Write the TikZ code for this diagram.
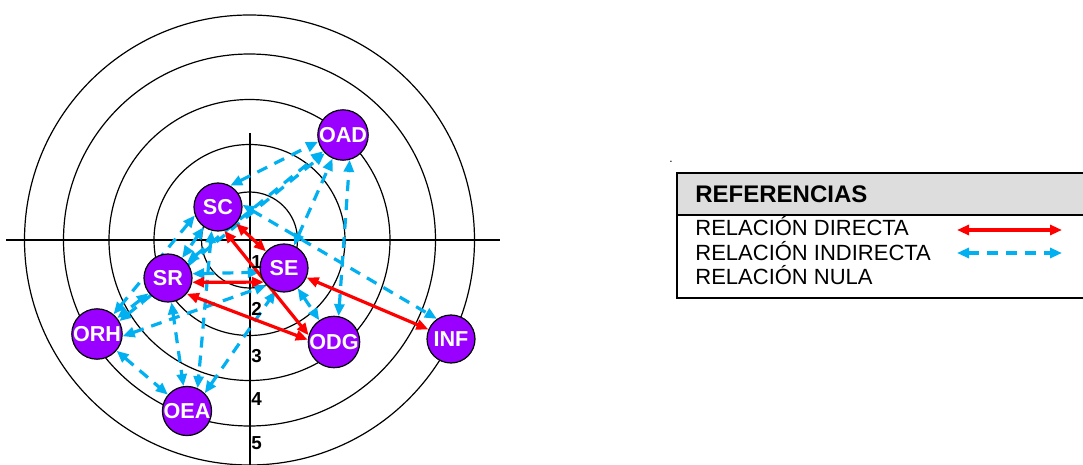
\documentclass[tikz,border=0pt]{standalone}
\usepackage{fontspec}
\setmainfont{Liberation Sans}
\usetikzlibrary{arrows.meta,backgrounds}
\definecolor{micPurple}{RGB}{153,0,255}
\definecolor{micBlue}{RGB}{0,176,240}
\definecolor{micRed}{RGB}{255,0,0}
\definecolor{micHead}{RGB}{221,221,221}
\tikzset{
  mic/var/.style={circle, draw=black, line width=0.6pt, fill=micPurple,
                  minimum size=24pt, inner sep=0pt, text=white,
                  font=\fontsize{10.8}{11}\selectfont\bfseries},
  mic/ring/.style={draw=black, line width=0.6pt},
  mic/axis/.style={draw=black, line width=0.8pt},
  mic/num/.style={font=\fontsize{9.4}{10}\selectfont\bfseries, anchor=base west,
                  inner sep=0pt},
  mic/direct/.style={{Triangle[length=6pt, width=5pt]}-{Triangle[length=6pt, width=5pt]},
                     line width=1.6pt, draw=micRed},
  mic/indirect/.style={{Triangle[length=6pt, width=5pt]}-{Triangle[length=6pt, width=5pt]},
                       line width=1.6pt, draw=micBlue, dash pattern=on 5.5pt off 4pt},
  mic/lbl/.style={font=\fontsize{11}{12}\selectfont, anchor=base west, inner sep=0pt},
  mic/title/.style={font=\fontsize{12}{13}\selectfont\bfseries, anchor=base west, inner sep=0pt},
}

\begin{document}
\begin{tikzpicture}[x=0.5pt, y=-0.5pt]
  \useasboundingbox (0,0) rectangle (1083,465);

  % ---------------- variables ----------------
  \node[mic/var] (OAD) at (343,135) {OAD};
  \node[mic/var] (SC)  at (218,207) {SC};
  \node[mic/var] (SE)  at (284,268) {SE};
  \node[mic/var] (SR)  at (168,278) {SR};
  \node[mic/var] (ORH) at (97,334)  {ORH};
  \node[mic/var] (ODG) at (334,342) {ODG};
  \node[mic/var] (INF) at (451,339) {INF};
  \node[mic/var] (OEA) at (187,411) {OEA};

  \begin{scope}[on background layer]
    \fill[white] (0,0) rectangle (1083,465);
    % ---------------- rings and axes ----------------
    \coordinate (ctr) at (249.5,240);
    \foreach \r in {48,95.5,140.5,186,225}
      \draw[mic/ring] (ctr) circle[radius=\r];
    \draw[mic/axis] (6,240) -- (500,240);
    \draw[mic/axis] (250,133) -- (250,470);

    % ---------------- indirect relations ----------------
    \draw[mic/indirect] (SC.60) -- (OAD.195);
    \draw[mic/indirect] (SC.5) -- (INF.125);
    \draw[mic/indirect] (SC) -- (SR);
    \draw[mic/indirect] (SC.200) -- (ORH.50);
    \draw[mic/indirect] (SC.-105) -- (OEA.65);
    \draw[mic/indirect] (SR) -- (OAD);
    \draw[mic/indirect] (ORH.30) -- (OAD.225);
    \draw[mic/indirect] (SE) -- (OAD);
    \draw[mic/indirect] (ODG.80) -- (OAD.-75);
    \draw[mic/indirect] (SE) -- (ODG);
    \draw[mic/indirect] (SR.10) -- (SE.190);
    \draw[mic/indirect] (SR) -- (ORH);
    \draw[mic/indirect] (SR) -- (OEA);
    \draw[mic/indirect] (ORH) -- (OEA);
    \draw[mic/indirect] (ORH.-5) -- (SE.225);
    \draw[mic/indirect] (OEA.45) -- (SE.250);

    % ---------------- direct relations ----------------
    \draw[mic/direct] (SC) -- (SE);
    \draw[mic/direct] (SC.-75) -- (ODG.165);
    \draw[mic/direct] (SR.-10) -- (SE.215);
    \draw[mic/direct] (SR.-40) -- (ODG.175);
    \draw[mic/direct] (SE) -- (INF);
  \end{scope}

  % ---------------- scale ----------------
  \node[mic/num] (n1) at (251,269) {1};
  \node[mic/num] (n2) at (251,315) {2};
  \node[mic/num] (n3) at (251,362) {3};
  \node[mic/num] (n4) at (251,405) {4};
  \node[mic/num] (n5) at (251,449) {5};

  % ---------------- legend ----------------
  \node[font=\fontsize{6}{6}\selectfont, inner sep=0pt] (dot) at (671,162) {.};
  \draw[line width=0.8pt, fill=micHead] (677,173) rectangle (1095,215);
  \draw[line width=0.8pt] (677,215) rectangle (1095,298);
  \node[mic/title] (refTitle) at (695,203) {REFERENCIAS};
  \node[mic/lbl] (relDir) at (695,235) {RELACIÓN DIRECTA};
  \node[mic/lbl] (relInd) at (695,260.5) {RELACIÓN INDIRECTA};
  \node[mic/lbl] (relNul) at (695,284.5) {RELACIÓN NULA};
  \coordinate (dirA) at (957,230);
  \coordinate (dirB) at (1062,230);
  \coordinate (indA) at (957,253);
  \coordinate (indB) at (1062,253);
  \draw[mic/direct] (dirA) -- (dirB);
  \draw[mic/indirect] (indA) -- (indB);
\end{tikzpicture}
\end{document}
